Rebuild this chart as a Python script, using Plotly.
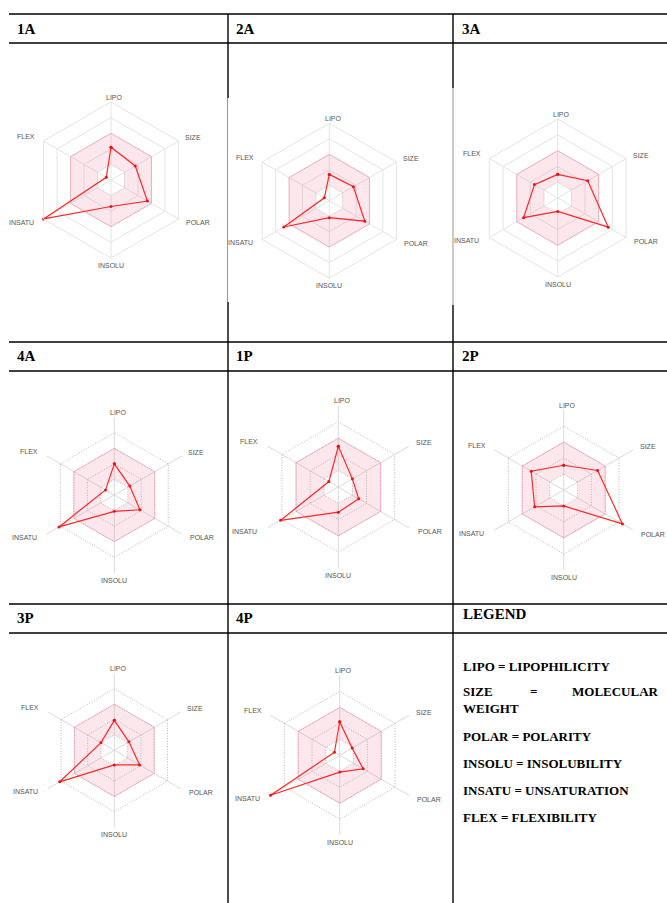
import plotly.graph_objects as go

W, H = 667, 903          # browser window == figure size (page margin removed below)

# ---------------- data ----------------
AXES = ['LIPO', 'SIZE', 'POLAR', 'INSOLU', 'INSATU', 'FLEX']
PANELS = ['1A', '2A', '3A', '4A', '1P', '2P', '3P', '4P']

v_1A = [2.1, 1.8, 2.7, 1.7, 5.0, 0.35]
v_2A = [1.7, 1.8, 2.65, 1.1, 3.4, 0.37]
v_3A = [1.5, 2.2, 3.7, 0.85, 2.5, 1.7]
v_4A = [2.0, 1.15, 1.9, 1.05, 4.1, 0.65]
v_1P = [2.5, 1.0, 1.45, 1.55, 4.1, 0.67]
v_2P = [1.55, 2.45, 4.25, 1.0, 2.1, 2.35]
v_3P = [1.95, 1.1, 1.9, 0.95, 4.1, 1.0]
v_4P = [2.1, 0.9, 1.7, 1.05, 5.0, 0.38]
VALUES = [v_1A, v_2A, v_3A, v_4A, v_1P, v_2P, v_3P, v_4P]

OPT_LOW = [1, 1, 1, 1, 1, 1]
OPT_HIGH = [3, 3, 3, 3, 3, 3]
R_MAX = 5
RING_TICKS = [1, 2, 3, 4, 5]

LEGEND_LINES = ['LIPO = LIPOPHILICITY', 'SIZE = MOLECULAR WEIGHT', 'POLAR = POLARITY',
                'INSOLU = INSOLUBILITY', 'INSATU = UNSATURATION', 'FLEX = FLEXIBILITY']

# ---------------- layout (pixel geometry in window coords) ----------------
# centre x, centre y, outer radius, dotted grid?
GEOM = [
    (111.0, 180.0, 78.0, False),
    (329.3, 200.7, 77.5, False),
    (557.7, 198.0, 79.0, False),
    (114.3, 495.0, 78.0, True),
    (338.3, 487.0, 81.5, True),
    (563.7, 490.0, 80.0, True),
    (114.3, 750.3, 77.0, True),
    (339.7, 755.3, 80.0, True),
]
# axis label offsets from centre, in units of outer radius
LABEL_OFF = [(0.05, -1.06), (1.05, -0.54), (1.12, 0.55),
             (0.0, 1.09), (-1.15, 0.54), (-1.09, -0.56)]
HEADERS = [(15, 28.5), (234, 28.5), (460, 28.5),
           (15, 356), (234, 356), (460, 356),
           (15, 618), (234, 618)]

def px(x):
    return x / W

def py(y):
    return 1 - y / H

fig = go.Figure()
layout = {}
ann = []

def closed(lst):
    return list(lst) + [lst[0]]

for i, (name, vals, (cx, cy, R, dotted)) in enumerate(zip(PANELS, VALUES, GEOM)):
    key = 'polar' if i == 0 else f'polar{i+1}'
    # pink optimal band (outer ring + reversed inner ring -> hole)
    theta_band = closed(AXES) + [AXES[0]] + list(reversed(closed(AXES)))[1:] + [AXES[0]]
    r_band = closed(OPT_HIGH) + [OPT_LOW[0]] + list(reversed(closed(OPT_LOW)))[1:] + [OPT_LOW[0]]
    fig.add_trace(go.Scatterpolar(
        r=r_band, theta=theta_band, mode='lines', fill='toself',
        fillcolor='rgba(240,110,150,0.17)', line=dict(width=0, color='rgba(0,0,0,0)'),
        subplot=key, hoverinfo='skip', showlegend=False))
    fig.add_trace(go.Scatterpolar(
        r=closed(OPT_HIGH), theta=closed(AXES), mode='lines',
        line=dict(width=1, color='rgba(235,130,160,0.45)'),
        subplot=key, hoverinfo='skip', showlegend=False))
    fig.add_trace(go.Scatterpolar(
        r=closed(vals), theta=closed(AXES), mode='lines+markers',
        line=dict(width=1.2, color='rgb(255,40,40)'),
        marker=dict(size=3, color='rgb(235,20,20)'),
        subplot=key, name=name, showlegend=False, cliponaxis=False))
    ring_dash = '1px,1.6px' if dotted else 'solid'
    ring_col = 'rgb(185,185,185)' if dotted else 'rgb(228,228,228)'
    spoke_col = 'rgb(218,218,218)' if dotted else 'rgb(228,228,228)'
    layout[key] = dict(
        domain=dict(x=[px(cx - R), px(cx + R)], y=[py(cy + R), py(cy - R)]),
        gridshape='linear',
        bgcolor='white',
        radialaxis=dict(range=[0, R_MAX * 1.002], tickvals=RING_TICKS, showticklabels=False,
                        ticks='', showline=False, gridcolor=ring_col, griddash=ring_dash,
                        gridwidth=1),
        angularaxis=dict(direction='clockwise', rotation=90, categoryorder='array',
                         categoryarray=AXES, showline=not dotted, linecolor=ring_col, linewidth=1,
                         gridcolor=spoke_col, ticks='', showticklabels=False),
    )
    for lab, (ox, oy) in zip(AXES, LABEL_OFF):
        ann.append(dict(text=lab, x=px(cx + ox * R), y=py(cy + oy * R),
                        xref='paper', yref='paper', xanchor='center', yanchor='middle',
                        showarrow=False,
                        font=dict(family='Liberation Sans, Arial', size=7, color='#555')))

# ---------------- table lines ----------------
shapes = []
def hline(y, x0=9, x1=667, w=1.4, c='black'):
    shapes.append(dict(type='line', xref='paper', yref='paper', x0=px(x0), x1=px(x1),
                       y0=py(y), y1=py(y), line=dict(color=c, width=w)))
def vline(x, y0, y1, w=1.4, c='black'):
    shapes.append(dict(type='line', xref='paper', yref='paper', x0=px(x), x1=px(x),
                       y0=py(y0), y1=py(y1), line=dict(color=c, width=w)))

for y in [14, 43, 342, 371, 604, 633]:
    hline(y)
vline(228, 14, 98)
vline(227.5, 98, 302, w=1, c='rgb(150,150,150)')
vline(228, 302, 903)
vline(453, 14, 88)
vline(453, 88, 305, w=1, c='rgb(150,150,150)')
vline(453, 305, 903)

# ---------------- text ----------------
serif = 'Liberation Serif, Times New Roman, serif'
def text(t, x, y, size=15, anchor='left'):
    ann.append(dict(text=f'<b>{t}</b>', x=px(x), y=py(y), xref='paper', yref='paper',
                    xanchor=anchor, yanchor='middle', showarrow=False,
                    font=dict(family=serif, size=size, color='black')))

for name, (hx, hy) in zip(PANELS, HEADERS):
    text(name, hx, hy)
text('LEGEND', 461, 614)

lx = 461
text(LEGEND_LINES[0], lx, 666, 13)
size_parts = LEGEND_LINES[1].split(' ')  # SIZE, =, MOLECULAR, WEIGHT
text(size_parts[0], lx, 691, 13)
text(size_parts[1], 533, 691, 13, 'center')
text(size_parts[2], 661, 691, 13, 'right')
text(size_parts[3], lx, 708, 13)
for t, y in zip(LEGEND_LINES[2:], [736, 763, 790, 817]):
    text(t, lx, y, 13)

fig.update_layout(width=W, height=H, margin=dict(l=0, r=0, t=0, b=0),
                  paper_bgcolor='white', plot_bgcolor='white',
                  shapes=shapes, annotations=ann, showlegend=False, **layout)

fig.write_html('out.html', config={'displayModeBar': False},
               post_script="document.body.style.margin='0';document.body.style.overflow='hidden';")
